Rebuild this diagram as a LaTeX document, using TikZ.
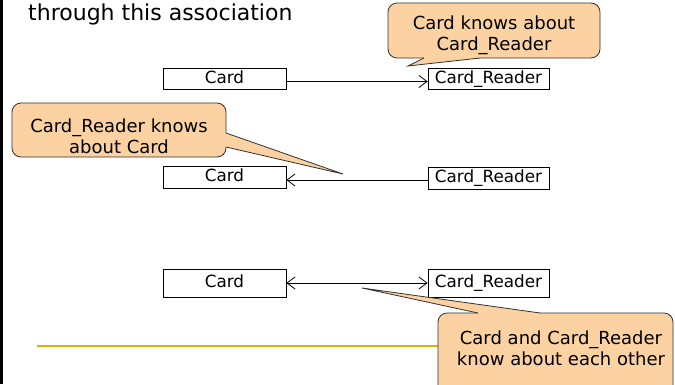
\documentclass[tikz,border=0pt]{standalone}
\usepackage{fontspec}
\setmainfont{DejaVu Sans}
\usetikzlibrary{arrows.meta}
\definecolor{peach}{RGB}{252,210,162}
\definecolor{bubbleline}{RGB}{50,50,50}
\definecolor{gold}{RGB}{224,178,0}
\begin{document}
\begin{tikzpicture}[x=1pt,y=-1pt,
  classbox/.style={draw=black, line width=0.8pt, fill=white, inner sep=0pt,
    font=\fontsize{16.8}{19}\selectfont, text height=12pt, text depth=3pt},
  assoc/.style={draw=black, line width=0.8pt},
  bubble/.style={fill=peach, draw=bubbleline, line width=0.8pt, rounded corners=9pt},
  wedgefill/.style={fill=peach},
  wedgeline/.style={draw=bubbleline, line width=0.8pt, line join=miter},
  notetext/.style={align=center, inner sep=0pt, font=\fontsize{18}{21}\selectfont},
]
\useasboundingbox (0,0) rectangle (675,384);
\clip (0,0) rectangle (675,384);
\fill[white] (0,0) rectangle (675,384);
% left bar
\fill[black] (0,0) rectangle (3,384);
% title
\node[anchor=base west, inner sep=0pt, font=\fontsize{22}{26}\selectfont] (title) at (28,20) {through this association};
% yellow rule
\coordinate (ruleL) at (37,346);
\coordinate (ruleR) at (450,346);
\draw[gold, line width=1.3pt] (ruleL) -- (ruleR);

% row 1
\node[classbox, minimum width=123pt, minimum height=21pt] (card1) at (224.5,78.5) {Card};
\node[classbox, minimum width=121pt, minimum height=21pt] (reader1) at (488.5,79) {Card\_Reader};
\draw[assoc, -{Straight Barb[length=8pt,width=12pt]}] ([yshift=-3pt]card1.east) -- ([yshift=-3pt]card1.east -| reader1.west);

% row 2
\node[classbox, minimum width=123pt, minimum height=22pt] (card2) at (224.5,177) {Card};
\node[classbox, minimum width=121pt, minimum height=22pt] (reader2) at (488.5,178) {Card\_Reader};
\draw[assoc, -{Straight Barb[length=8pt,width=12pt]}] ([yshift=-2pt]reader2.west) -- ([yshift=-2pt]reader2.west -| card2.east);

% row 3
\node[classbox, minimum width=123pt, minimum height=28pt] (card3) at (224.5,283) {Card};
\node[classbox, minimum width=121pt, minimum height=28pt] (reader3) at (488.5,283) {Card\_Reader};
\draw[assoc, {Straight Barb[length=8pt,width=12pt]}-{Straight Barb[length=8pt,width=12pt]}] (card3.east) -- (reader3.west);

% callout 1
\coordinate (tip1) at (408,66);
\draw[bubble] (388,3) rectangle (600,58);
\fill[wedgefill] (tip1) -- (424,58) -- (424,56) -- (480,56) -- (480,58) -- cycle;
\draw[wedgeline] (424,58) -- (tip1) -- (480,58);
\node[notetext] (note1) at (494,35) {Card knows about\\Card\_Reader};

% callout 2
\coordinate (tip2) at (343,174);
\draw[bubble] (12,103) rectangle (226,157);
\fill[wedgefill] (tip2) -- (226,133) -- (224,133) -- (224,147) -- (226,147) -- cycle;
\draw[wedgeline] (226,133) -- (tip2) -- (226,147);
\node[notetext] (note2) at (119,136) {Card\_Reader knows\\about Card};

% callout 3
\coordinate (tip3) at (362,288);
\draw[bubble] (438,313) rectangle (673,400);
\fill[wedgefill] (tip3) -- (478,313) -- (478,315) -- (540,315) -- (540,313) -- cycle;
\draw[wedgeline] (478,313) -- (tip3) -- (540,313);
\node[notetext] (note3) at (561,348) {Card and Card\_Reader\\know about each other};
\end{tikzpicture}
\end{document}
